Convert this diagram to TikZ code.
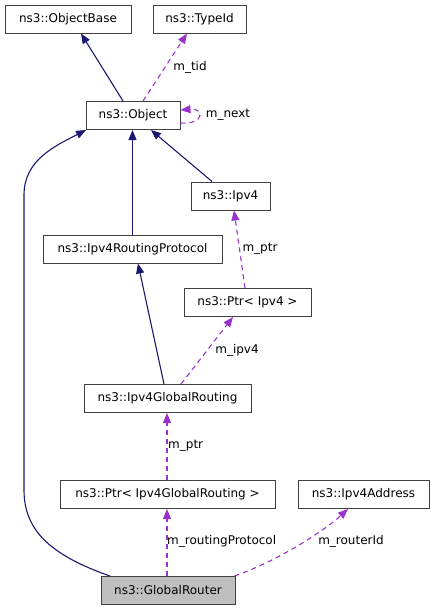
\documentclass[tikz,border=0pt]{standalone}
\usepackage{fontspec}
\setmainfont{DejaVu Sans}
\usetikzlibrary{arrows.meta,positioning}
\definecolor{edgeblue}{HTML}{191970}
\definecolor{edgepurple}{HTML}{9A32CD}
\definecolor{boxline}{HTML}{404040}
\definecolor{boxgray}{HTML}{BFBFBF}
\tikzset{
	classbox/.style={draw=boxline, line width=1pt, fill=white, minimum height=28pt, inner sep=0pt, font=\fontsize{12}{14}\selectfont},
	inherit/.style={edgeblue, line width=1.1pt, -{Triangle[length=10pt,width=8pt]}},
	usage/.style={edgepurple, line width=1.1pt, dash pattern=on 5pt off 4pt, -{Triangle[length=10pt,width=8pt]}},
	edgelabel/.style={font=\fontsize{12}{14}\selectfont, inner sep=0pt}
}
\begin{document}
\begin{tikzpicture}[x=1pt,y=-1pt]
                        \useasboundingbox (0,0) rectangle (435,611);
                        {

                        % Drawing box ObjectBase
                        \node [classbox, minimum width=126pt] (objbase) at (68,19) {ns3::ObjectBase};%

                        % Drawing box TypeId
                        \node [classbox, minimum width=93pt] (typeid) at (199.5,19) {ns3::TypeId};%

                        % Drawing box Object
                        \node [classbox, minimum width=94pt] (object) at (133,115.5) {ns3::Object};%

                        % Drawing box Ipv4
                        \node [classbox, minimum width=79pt] (ipv4) at (230.5,196) {ns3::Ipv4};%

                        % Drawing box Ipv4RoutingProtocol
                        \node [classbox, minimum width=179pt] (routingproto) at (132.5,249) {ns3::Ipv4RoutingProtocol};%

                        % Drawing box Ptr< Ipv4 >
                        \node [classbox, minimum width=127pt] (ptripv4) at (247.5,302.5) {ns3::Ptr< Ipv4 >};%

                        % Drawing box Ipv4GlobalRouting
                        \node [classbox, minimum width=167pt] (globalrouting) at (167.5,398.5) {ns3::Ipv4GlobalRouting};%

                        % Drawing box Ptr< Ipv4GlobalRouting >
                        \node [classbox, minimum width=215pt] (ptrglobal) at (167.5,494.5) {ns3::Ptr< Ipv4GlobalRouting >};%

                        % Drawing box Ipv4Address
                        \node [classbox, minimum width=131pt] (ipv4addr) at (363.5,494.5) {ns3::Ipv4Address};%

                        % Drawing box GlobalRouter
                        \node [classbox, fill=boxgray, minimum width=134pt] (globalrouter) at (168,590.5) {ns3::GlobalRouter};%

                        % Drawing edge Object -> ObjectBase
                        \draw [inherit] ([xshift=-10pt]object.north) -- ([xshift=13pt]objbase.south);%

                        % Drawing edge Object -> TypeId
                        \draw [usage] ([xshift=10pt]object.north) -- ([xshift=-12.5pt]typeid.south);%

                        % Drawing edge Object -> Object
                        \draw [usage] ([yshift=-7.5pt]object.east) .. controls +(24pt,-2pt) and +(24pt,2pt) .. ([yshift=5.5pt]object.east);%

                        % Drawing edge Ipv4 -> Object
                        \draw [inherit] ([xshift=-18.5pt]ipv4.north) -- ([xshift=18pt]object.south);%

                        % Drawing edge Ipv4RoutingProtocol -> Object
                        \draw [inherit] (routingproto.north) -- (routingproto.north |- object.south);%

                        % Drawing edge GlobalRouter -> Object
                        \draw [inherit] ([xshift=-58pt]globalrouter.north) .. controls (50,555) and (24,530) .. (24,490) -- (24,195) .. controls (24,160) and (55,146) .. ([xshift=-47pt]object.south);%

                        % Drawing edge Ipv4GlobalRouting -> Ipv4RoutingProtocol
                        \draw [inherit] ([xshift=-3.5pt]globalrouting.north) -- ([xshift=5.5pt]routingproto.south);%

                        % Drawing edge Ipv4GlobalRouting -> Ptr< Ipv4 >
                        \draw [usage] ([xshift=13.5pt]globalrouting.north) -- ([xshift=-14.5pt]ptripv4.south);%

                        % Drawing edge Ptr< Ipv4 > -> Ipv4
                        \draw [usage] ([xshift=-2.5pt]ptripv4.north) -- ([xshift=3.5pt]ipv4.south);%

                        % Drawing edge Ptr< Ipv4GlobalRouting > -> Ipv4GlobalRouting
                        \draw [usage] ([xshift=-0.5pt]ptrglobal.north) -- ([xshift=-0.5pt]globalrouting.south);%

                        % Drawing edge GlobalRouter -> Ptr< Ipv4GlobalRouting >
                        \draw [usage] ([xshift=-1pt]globalrouter.north) -- ([xshift=-0.5pt]ptrglobal.south);%

                        % Drawing edge GlobalRouter -> Ipv4Address
                        \draw [usage] ([xshift=-1pt]globalrouter.north east) .. controls (280,560) and (325,530) .. ([xshift=-15.5pt]ipv4addr.south);%

                        % Marking label m_tid
                        \node [edgelabel] (lbltid) at (190,67) {m\_tid};%

                        % Marking label m_next
                        \node [edgelabel] (lblnext) at (228,115) {m\_next};%

                        % Marking label m_ptr
                        \node [edgelabel] (lblptr) at (260,249) {m\_ptr};%

                        % Marking label m_ipv4
                        \node [edgelabel] (lblipv4) at (237,350) {m\_ipv4};%

                        % Marking label m_ptr
                        \node [edgelabel, anchor=west] (lblptrglobal) at (168,446) {m\_ptr};%

                        % Marking label m_routingProtocol
                        \node [edgelabel, anchor=west] (lblrouting) at (167,541) {m\_routingProtocol};%

                        % Marking label m_routerId
                        \node [edgelabel] (lblrouterid) at (351,541) {m\_routerId};%
                        }
                    \end{tikzpicture}
\end{document}
